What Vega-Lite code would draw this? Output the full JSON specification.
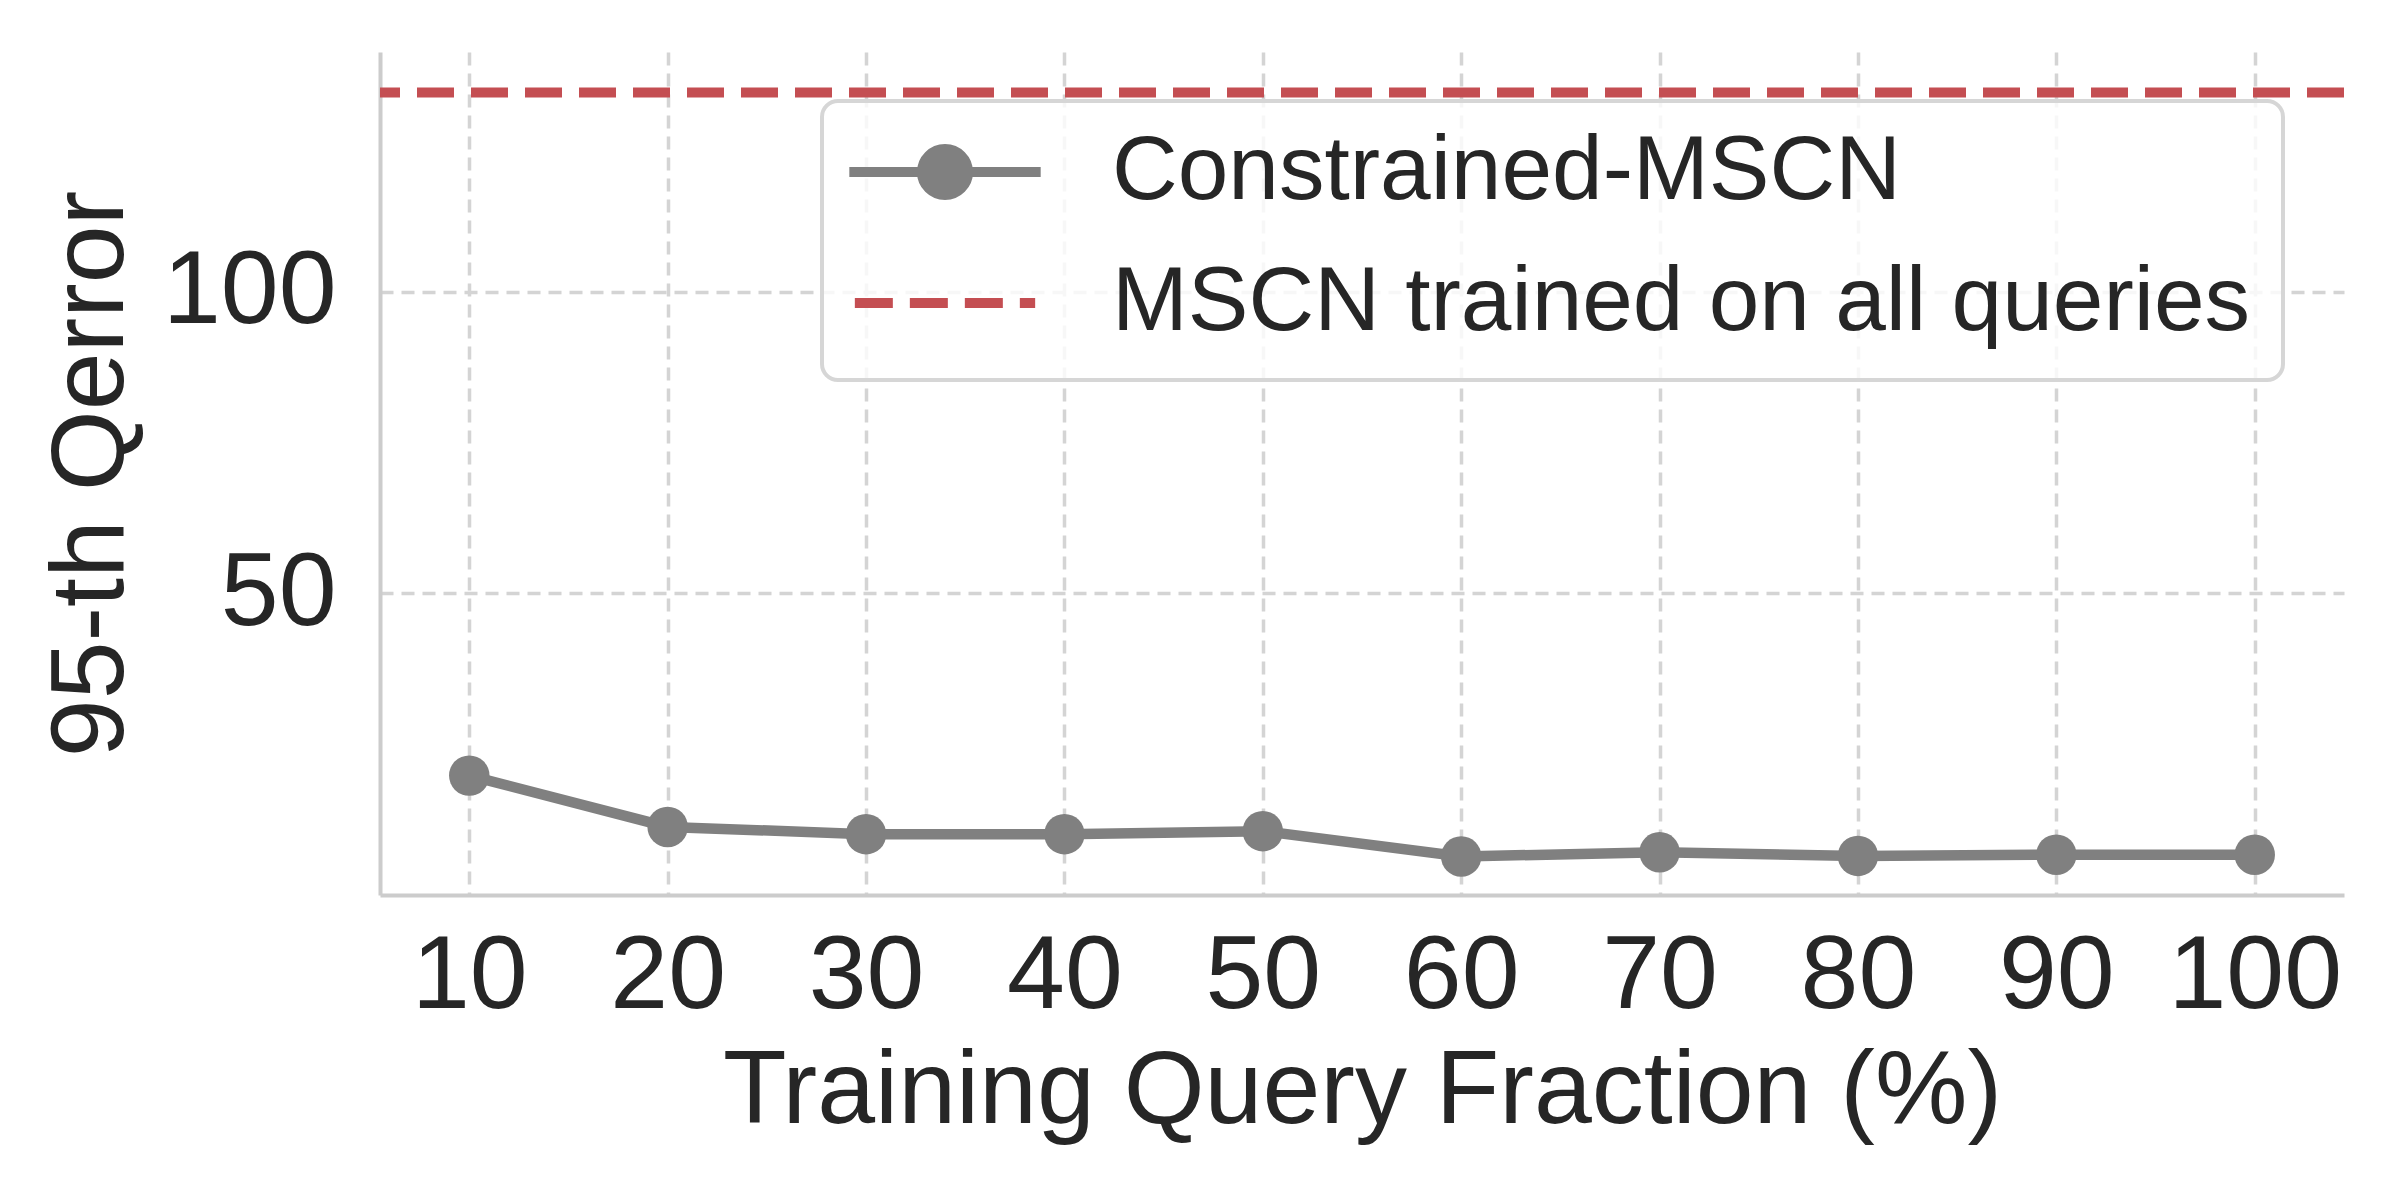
{
  "$schema": "https://vega.github.io/schema/vega-lite/v6.json",
  "width": 1964,
  "height": 843,
  "autosize": {"type": "none"},
  "padding": {"left": 380, "top": 52, "right": 56, "bottom": 305},
  "background": "white",
  "config": {
    "view": {"stroke": null},
    "font": "Liberation Sans",
    "axis": {
      "domainColor": "#cccccc",
      "domainWidth": 4,
      "ticks": false,
      "grid": true,
      "gridColor": "#d4d4d4",
      "gridWidth": 3.5,
      "gridDash": [13, 8],
      "labelColor": "#262626",
      "titleColor": "#262626",
      "labelFontSize": 104,
      "titleFontSize": 104,
      "labelFont": "Liberation Sans",
      "titleFont": "Liberation Sans",
      "titleFontWeight": "normal"
    }
  },
  "datasets": {
    "constrained": [
      {"fraction": 10, "qerror": 19.8, "series": "Constrained-MSCN"},
      {"fraction": 20, "qerror": 11.3, "series": "Constrained-MSCN"},
      {"fraction": 30, "qerror": 10.1, "series": "Constrained-MSCN"},
      {"fraction": 40, "qerror": 10.1, "series": "Constrained-MSCN"},
      {"fraction": 50, "qerror": 10.6, "series": "Constrained-MSCN"},
      {"fraction": 60, "qerror": 6.4, "series": "Constrained-MSCN"},
      {"fraction": 70, "qerror": 7.1, "series": "Constrained-MSCN"},
      {"fraction": 80, "qerror": 6.5, "series": "Constrained-MSCN"},
      {"fraction": 90, "qerror": 6.7, "series": "Constrained-MSCN"},
      {"fraction": 100, "qerror": 6.7, "series": "Constrained-MSCN"}
    ],
    "baseline": [
      {"qerror": 133.0, "series": "MSCN trained on all queries"}
    ]
  },
  "layer": [
    {
      "data": {"name": "baseline"},
      "mark": {"type": "rule", "strokeWidth": 10, "strokeDash": [37, 17]},
      "encoding": {
        "y": {
          "field": "qerror",
          "type": "quantitative",
          "scale": {"domain": [0.02, 139.7], "nice": false, "zero": false},
          "axis": {"values": [50, 100], "title": "95-th Qerror", "labelPadding": 44, "titlePadding": 36}
        },
        "color": {
          "field": "series",
          "type": "nominal",
          "scale": {
            "domain": ["Constrained-MSCN", "MSCN trained on all queries"],
            "range": ["#808080", "#c44e52"]
          }
        }
      }
    },
    {
      "data": {"name": "constrained"},
      "mark": {
        "type": "line",
        "strokeWidth": 10.5,
        "point": {"filled": true, "size": 1640, "opacity": 1}
      },
      "encoding": {
        "x": {
          "field": "fraction",
          "type": "quantitative",
          "scale": {"domain": [5.5, 104.5], "nice": false, "zero": false},
          "axis": {
            "values": [10, 20, 30, 40, 50, 60, 70, 80, 90, 100],
            "title": "Training Query Fraction (%)",
            "labelPadding": 30,
            "titlePadding": 12
          }
        },
        "y": {"field": "qerror", "type": "quantitative"},
        "color": {
          "field": "series",
          "type": "nominal",
          "legend": {
            "title": null,
            "orient": "none",
            "legendX": 442,
            "legendY": 49,
            "padding": 32,
            "rowPadding": 40,
            "labelFontSize": 91,
            "labelColor": "#262626",
            "labelFont": "Liberation Sans",
            "labelOffset": 116,
            "symbolOffset": 40,
            "symbolSize": 8464,
            "labelLimit": 2000,
            "fillColor": "rgba(255,255,255,0.8)",
            "strokeColor": "#d6d6d6",
            "cornerRadius": 16,
            "values": ["Constrained-MSCN", "MSCN trained on all queries"],
            "encode": {
              "legend": {"update": {"strokeWidth": {"value": 4}}},
              "labels": {"update": {"dy": {"value": -12}}},
              "symbols": {
                "update": {
                  "shape": {"signal": "datum.value === 'Constrained-MSCN' ? 'M-2.08,-0.26H2.08M0.5,-0.26A0.5,0.5,0,1,1,-0.5,-0.26A0.5,0.5,0,1,1,0.5,-0.26Z' : 'M-1.96,-0.26H1.96'"},
                  "fill": {"signal": "datum.value === 'Constrained-MSCN' ? '#808080' : 'transparent'"},
                  "stroke": {"signal": "datum.value === 'Constrained-MSCN' ? '#808080' : '#c44e52'"},
                  "strokeWidth": {"value": 10},
                  "strokeDash": {"signal": "datum.value === 'Constrained-MSCN' ? [] : [38, 17]"},
                  "opacity": {"value": 1}
                }
              }
            }
          }
        }
      }
    }
  ]
}
